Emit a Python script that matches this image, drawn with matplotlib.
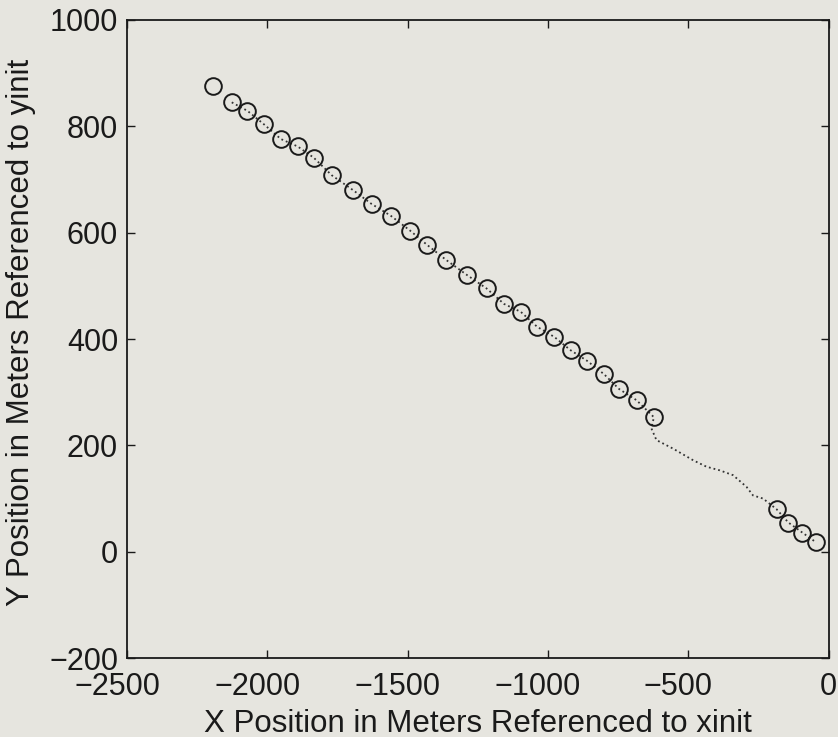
import matplotlib.pyplot as plt
from matplotlib.transforms import ScaledTranslation

# circled fixes (meters, referenced to xinit / yinit)
fix_x = [-2195, -2127, -2071, -2013, -1952, -1892, -1835, -1771, -1695, -1629,
         -1561, -1492, -1431, -1364, -1288, -1219, -1157, -1097, -1039, -978,
         -920, -861, -801, -747, -685, -623, -186, -144, -94, -46]
fix_y = [876, 845, 829, 804, 776, 762, 741, 708, 680, 654,
         632, 604, 577, 549, 520, 495, 466, 451, 423, 404,
         379, 359, 334, 306, 285, 253, 80, 55, 36, 18]

# dotted track between fixes
track_x = [-2127, -2071, -2013, -1952, -1892, -1835, -1771, -1695, -1629, -1561,
           -1492, -1431, -1364, -1288, -1219, -1157, -1097, -1039, -978, -920,
           -861, -801, -747, -685, -623, -632, -614, -555, -483, -436, -388,
           -341, -293, -270, -234, -186, -144, -94, -46]
track_y = [845, 829, 804, 776, 762, 741, 708, 680, 654, 632,
           604, 577, 549, 520, 495, 466, 451, 423, 404, 379,
           359, 334, 306, 285, 253, 232, 210, 194, 172, 160, 153,
           144, 122, 106, 100, 80, 55, 36, 18]

xticks = [-2500, -2000, -1500, -1000, -500, 0]
yticks = [-200, 0, 200, 400, 600, 800, 1000]
xlabels = ['\u22122500', '\u22122000', '\u22121500', '\u22121000', '\u2212500', '0']
ylabels = ['\u2212200', '0', '200', '400', '600', '800', '1000']

plt.rcParams['font.family'] = ['Liberation Sans', 'DejaVu Sans']

bg = '#e6e5df'
ink = '#1a1a1a'
fig = plt.figure(figsize=(8.38, 7.37), dpi=100, facecolor=bg)
ax = fig.add_axes([0.1516, 0.107, 0.8374, 0.866])
ax.set_facecolor(bg)

ax.plot(track_x, track_y, linestyle=':', color='#333333', linewidth=1.3)
ax.plot(fix_x, fix_y, linestyle='none', marker='o', markersize=12,
        markerfacecolor='none', markeredgecolor=ink, markeredgewidth=1.4)

ax.set_xlim(-2500, 0)
ax.set_ylim(-200, 1000)
ax.set_xticks(xticks)
ax.set_xticklabels(xlabels)
ax.set_yticks(yticks)
ax.set_yticklabels(ylabels)
ax.tick_params(direction='in', top=True, right=True, length=6, width=1,
               labelsize=22, colors=ink)
ax.tick_params(axis='x', pad=10)
ax.tick_params(axis='y', pad=6.5)
for s in ax.spines.values():
    s.set_linewidth(1.3)
    s.set_color(ink)

# negative x labels sit a little left of their ticks in the original
shift = ScaledTranslation(-10 / 100, 0, fig.dpi_scale_trans)
for lbl in ax.get_xticklabels():
    if lbl.get_text().startswith('\u2212'):
        lbl.set_transform(lbl.get_transform() + shift)

ax.set_xlabel('X Position in Meters Referenced to xinit', fontsize=22.5, color=ink)
ax.set_ylabel('Y Position in Meters Referenced to yinit', fontsize=22.5, color=ink)
ax.xaxis.set_label_coords(0.5, -0.079)
ax.yaxis.set_label_coords(-0.13, 0.51)

plt.savefig('out.png', dpi=100, facecolor=bg)
